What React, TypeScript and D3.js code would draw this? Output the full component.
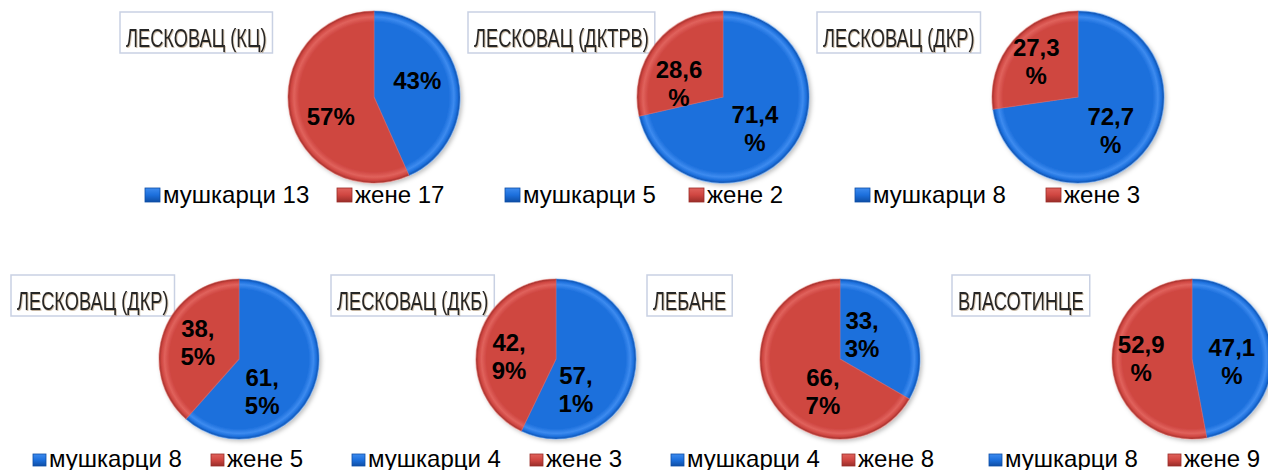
import { useEffect, useRef } from 'react';
import * as d3 from 'd3';

// Chart values
const titles = [
  'ЛЕСКОВАЦ (КЦ)',
  'ЛЕСКОВАЦ (ДКТРВ)',
  'ЛЕСКОВАЦ (ДКР)',
  'ЛЕСКОВАЦ (ДКР)',
  'ЛЕСКОВАЦ (ДКБ)',
  'ЛЕБАНЕ',
  'ВЛАСОТИНЦЕ',
];
const seriesNames = ['мушкарци', 'жене'];
const men = [13, 5, 8, 8, 4, 4, 8];
const women = [17, 2, 3, 5, 3, 8, 9];
const menLabels = [['43%'], ['71,4', '%'], ['72,7', '%'], ['61,', '5%'], ['57,', '1%'], ['33,', '3%'], ['47,1', '%']];
const womenLabels = [['57%'], ['28,6', '%'], ['27,3', '%'], ['38,', '5%'], ['42,', '9%'], ['66,', '7%'], ['52,9', '%']];

// Panel placement (layout only); nudge = label shift from the slice centroid
const panels = [
  { row: 0, titleX: 120, cx: 374, legendX: [145, 337], nudge: [[-3, -6], [3, 10]] },
  { row: 0, titleX: 468, cx: 723, legendX: [505, 689], nudge: [[-5, 3], [-7, 16]] },
  { row: 0, titleX: 817, cx: 1078, legendX: [855, 1046], nudge: [[-3, 3], [-6, -4]] },
  { row: 1, titleX: 11, cx: 239, legendX: [33, 211], nudge: [[-18, 17], [0, 0]] },
  { row: 1, titleX: 331, cx: 556, legendX: [352, 530], nudge: [[-23, 21], [-4, 8]] },
  { row: 1, titleX: 647, cx: 840, legendX: [671, 842], nudge: [[-16, -2], [21, 11]] },
  { row: 1, titleX: 952, cx: 1192, legendX: [989, 1168], nudge: [[-4, 7], [-7, -4]] },
];
const rows = [
  { titleY: 12, cy: 97, r: 86, legendY: 203, sq: 14 },
  { titleY: 275, cy: 359, r: 80, legendY: 467, sq: 12 },
];

const palette = [
  { base: '#1c6fdc', light: '#3d8bef', dark: '#0e4ea6' },
  { base: '#cf4641', light: '#e0625c', dark: '#9a2d29' },
];

const W = 1268;
const H = 470;

const App = () => {
  const svgRef = useRef<SVGSVGElement | null>(null);

  useEffect(() => {
    const svg = d3.select(svgRef.current);
    svg.selectAll('*').remove();

    const defs = svg.append('defs');

    // Bevel-like radial gradients, one per row radius and colour
    rows.forEach((row, ri) => {
      palette.forEach((c, ci) => {
        const g = defs.append('radialGradient')
          .attr('id', `pie-${ri}-${ci}`)
          .attr('gradientUnits', 'userSpaceOnUse')
          .attr('cx', 0).attr('cy', 0).attr('r', row.r);
        g.append('stop').attr('offset', '0%').attr('stop-color', c.base);
        g.append('stop').attr('offset', '87%').attr('stop-color', c.base);
        g.append('stop').attr('offset', '93%').attr('stop-color', c.light);
        g.append('stop').attr('offset', '97%').attr('stop-color', c.base);
        g.append('stop').attr('offset', '100%').attr('stop-color', c.dark);
      });
    });
    palette.forEach((c, ci) => {
      const g = defs.append('linearGradient')
        .attr('id', `sq-${ci}`)
        .attr('x1', 0).attr('y1', 0).attr('x2', 0).attr('y2', 1);
      g.append('stop').attr('offset', '0%').attr('stop-color', c.light);
      g.append('stop').attr('offset', '50%').attr('stop-color', c.base);
      g.append('stop').attr('offset', '100%').attr('stop-color', c.dark);
    });

    const shadow = defs.append('filter').attr('id', 'pie-shadow')
      .attr('x', '-20%').attr('y', '-20%').attr('width', '140%').attr('height', '140%');
    shadow.append('feDropShadow')
      .attr('dx', 2).attr('dy', 2).attr('stdDeviation', 2)
      .attr('flood-color', '#000').attr('flood-opacity', 0.25);

    const titleShadow = defs.append('filter').attr('id', 'title-shadow');
    titleShadow.append('feDropShadow')
      .attr('dx', 1).attr('dy', 1).attr('stdDeviation', 0.6)
      .attr('flood-color', '#8a6a40').attr('flood-opacity', 0.5);

    const pie = d3.pie<number>().sort(null).value(d => d);

    panels.forEach((p, i) => {
      const row = rows[p.row];
      const values = [men[i], women[i]];
      const labels = [menLabels[i], womenLabels[i]];

      // Title box
      const tg = svg.append('g');
      const rect = tg.append('rect')
        .attr('y', row.titleY)
        .attr('height', 41)
        .attr('fill', '#fff')
        .attr('stroke', '#c9d1e3')
        .attr('stroke-width', 1.5);
      const sx = 0.73;
      const title = tg.append('text')
        .attr('transform', `translate(${p.titleX + 6},${row.titleY + 35}) scale(${sx},1)`)
        .attr('font-family', '"Liberation Sans", Arial, sans-serif')
        .attr('font-size', 25)
        .attr('fill', '#262626')
        .attr('filter', 'url(#title-shadow)')
        .text(titles[i]);
      const tw = (title.node() as SVGTextElement).getComputedTextLength() * sx;
      rect.attr('x', p.titleX).attr('width', tw + 12);

      // Pie
      const arc = d3.arc<d3.PieArcDatum<number>>().innerRadius(0).outerRadius(row.r);
      const labelArc = d3.arc<d3.PieArcDatum<number>>()
        .innerRadius(row.r * 0.55).outerRadius(row.r * 0.55);
      const arcs = pie(values);
      const pg = svg.append('g').attr('transform', `translate(${p.cx},${row.cy})`);
      pg.append('g').attr('filter', 'url(#pie-shadow)')
        .selectAll('path')
        .data(arcs)
        .enter()
        .append('path')
        .attr('d', arc)
        .attr('fill', (_d, k) => `url(#pie-${p.row}-${k})`)
        .attr('stroke', (_d, k) => palette[k].light)
        .attr('stroke-opacity', 0.5)
        .attr('stroke-width', 1.2)
        .attr('stroke-linejoin', 'round');

      arcs.forEach((a, k) => {
        const [cx0, cy0] = labelArc.centroid(a);
        const lx = cx0 + p.nudge[k][0];
        const ly = cy0 + p.nudge[k][1];
        const lines = labels[k];
        const lh = 28;
        const t = pg.append('text')
          .attr('text-anchor', 'middle')
          .attr('font-family', '"Liberation Sans", Arial, sans-serif')
          .attr('font-weight', 'bold')
          .attr('font-size', 24)
          .attr('fill', '#000');
        lines.forEach((ln, j) => {
          t.append('tspan')
            .attr('x', lx)
            .attr('y', ly + 8 + (j - (lines.length - 1) / 2) * lh)
            .text(ln);
        });
      });

      // Legend
      seriesNames.forEach((name, k) => {
        const x = p.legendX[k];
        svg.append('rect')
          .attr('x', x)
          .attr('y', row.legendY - row.sq - 1)
          .attr('width', row.sq + 1)
          .attr('height', row.sq)
          .attr('fill', `url(#sq-${k})`)
          .attr('stroke', palette[k].dark)
          .attr('stroke-width', 0.8);
        svg.append('text')
          .attr('x', x + row.sq + 4)
          .attr('y', row.legendY)
          .attr('font-family', '"Liberation Sans", Arial, sans-serif')
          .attr('font-size', 24)
          .attr('fill', '#000')
          .text(`${name} ${values[k]}`);
      });
    });
  }, []);

  return (
    <svg
      ref={svgRef}
      width={W}
      height={H}
      style={{ position: 'absolute', left: 0, top: 0, background: '#fff' }}
    />
  );
};

export default App;
